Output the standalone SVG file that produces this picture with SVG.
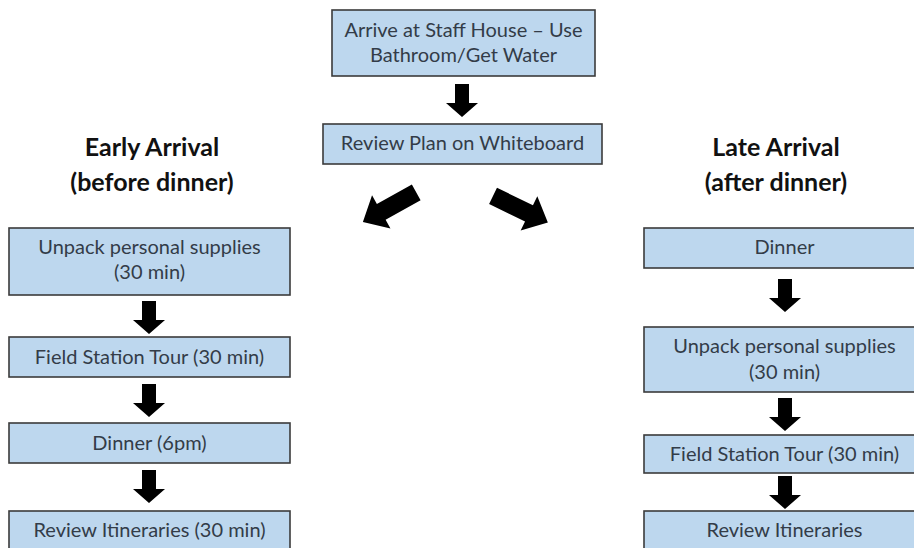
<svg xmlns="http://www.w3.org/2000/svg" width="914" height="548" viewBox="0 0 914 548">
<style>
.box{fill:#bdd7ee;stroke:#3b3b3b;stroke-width:1.6}
.t{font-family:Lato,"Liberation Sans",sans-serif;font-size:20px;fill:#333c48;text-anchor:middle}
.h{font-family:Lato,"Liberation Sans",sans-serif;font-size:25px;font-weight:bold;fill:#111;text-anchor:middle}
.arr{fill:#000}
</style>
<defs>
<path id="va" d="M-7,0 H7 V19 H16 L0,33 L-16,19 H-7 Z"/>
<path id="da" d="M-30,-9 H10 V-19 L31,0 L10,19 V9 H-30 Z"/>
</defs>
<rect width="914" height="548" fill="#fff"/>
<text class="h" x="152" y="156">Early Arrival</text>
<text class="h" x="152" y="191">(before dinner)</text>
<text class="h" x="776" y="156">Late Arrival</text>
<text class="h" x="776" y="191">(after dinner)</text>
<g id="n-arrive"><rect class="box" x="332" y="10" width="263" height="66"/><text class="t" x="463.5" y="37">Arrive at Staff House – Use</text><text class="t" x="463.5" y="62">Bathroom/Get Water</text></g>
<g id="n-review"><rect class="box" x="323" y="124" width="279" height="40"/><text class="t" x="462.5" y="150">Review Plan on Whiteboard</text></g>
<g id="n-e-unpack"><rect class="box" x="9" y="228" width="281" height="67"/><text class="t" x="149.5" y="254">Unpack personal supplies</text><text class="t" x="149.5" y="279">(30 min)</text></g>
<g id="n-e-tour"><rect class="box" x="9" y="337" width="281" height="40"/><text class="t" x="149.5" y="364">Field Station Tour (30 min)</text></g>
<g id="n-e-dinner"><rect class="box" x="9" y="423" width="281" height="40"/><text class="t" x="149.5" y="450">Dinner (6pm)</text></g>
<g id="n-e-itin"><rect class="box" x="9" y="511" width="281" height="50"/><text class="t" x="149.5" y="537">Review Itineraries (30 min)</text></g>
<g id="n-l-dinner"><rect class="box" x="644" y="228" width="281" height="40"/><text class="t" x="784.5" y="254">Dinner</text></g>
<g id="n-l-unpack"><rect class="box" x="644" y="327" width="281" height="65"/><text class="t" x="784.5" y="353">Unpack personal supplies</text><text class="t" x="784.5" y="379">(30 min)</text></g>
<g id="n-l-tour"><rect class="box" x="644" y="435" width="281" height="38"/><text class="t" x="784.5" y="461">Field Station Tour (30 min)</text></g>
<g id="n-l-itin"><rect class="box" x="644" y="511" width="281" height="50"/><text class="t" x="784.5" y="537">Review Itineraries</text></g>
<g id="connectors" class="arr">
<use href="#va" x="462" y="84"/>
<use href="#da" transform="translate(390,207) rotate(151)"/>
<use href="#da" transform="translate(520,209) rotate(26)"/>
<use href="#va" x="149" y="301"/>
<use href="#va" x="149" y="384"/>
<use href="#va" x="149" y="470"/>
<use href="#va" x="785" y="279"/>
<use href="#va" x="785" y="398"/>
<use href="#va" x="785" y="476"/>
</g>
</svg>
